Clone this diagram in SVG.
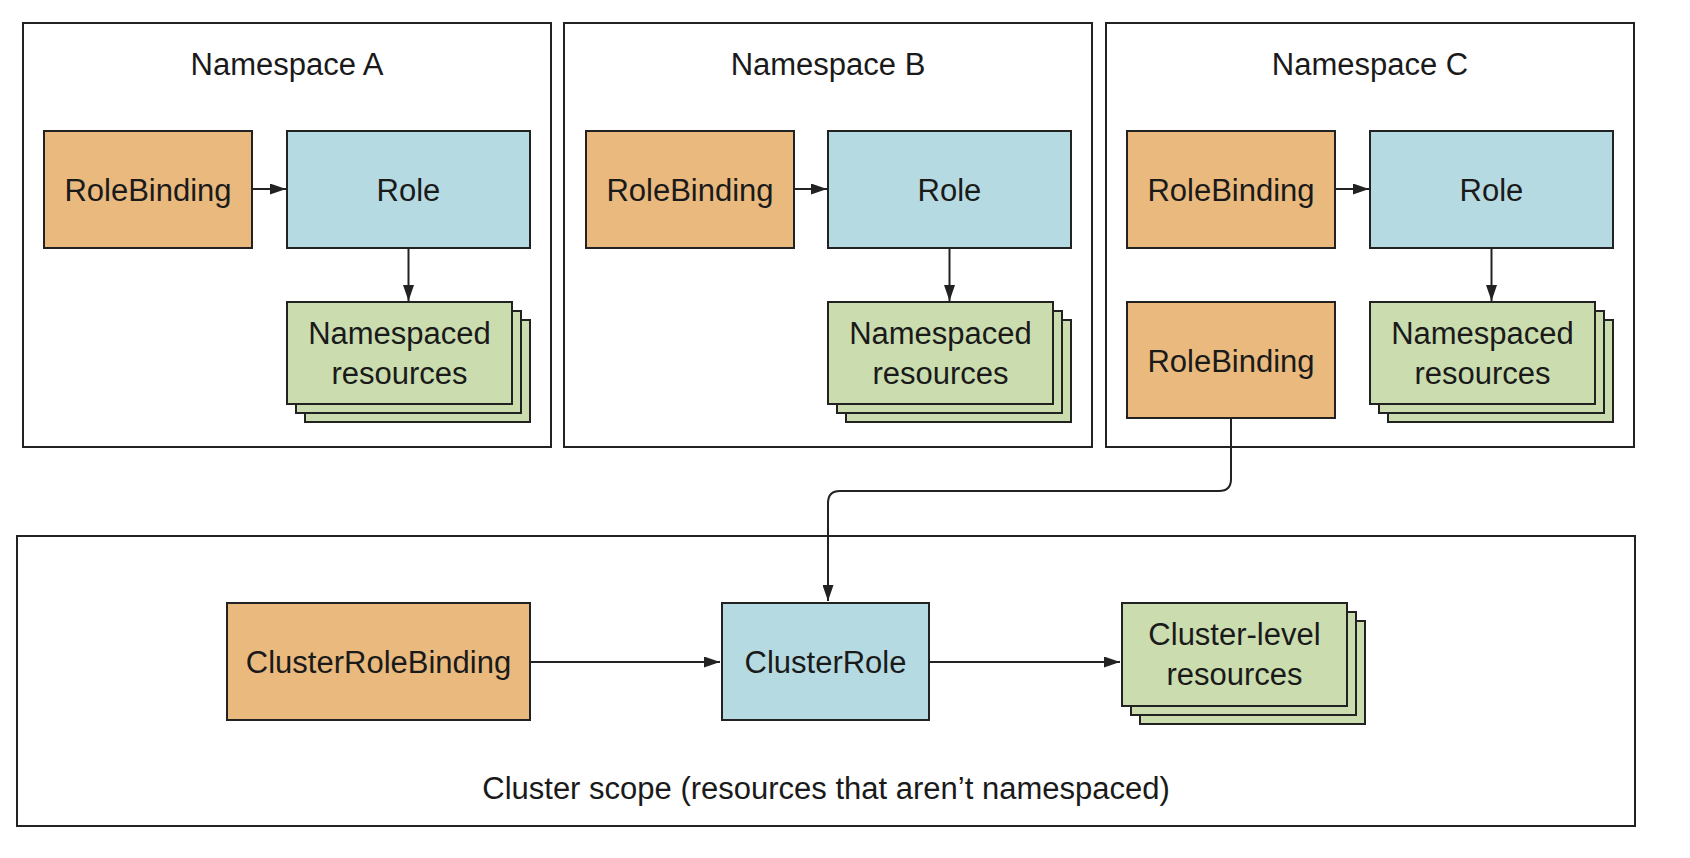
<svg xmlns="http://www.w3.org/2000/svg" width="1690" height="858" viewBox="0 0 1690 858">
<style>
text{font-family:"Liberation Sans",Arial,Helvetica,sans-serif;font-size:31px;fill:#1a1a1a;text-anchor:middle}
.frame{fill:#fff;stroke:#222;stroke-width:2}
.rb{fill:#E9B97E;stroke:#222;stroke-width:2}
.role{fill:#B6DAE1;stroke:#222;stroke-width:2}
.res{fill:#CBDDAF;stroke:#222;stroke-width:2}
.conn{fill:none;stroke:#222;stroke-width:2}
</style>
<defs>
<marker id="ah" markerWidth="16" markerHeight="11" refX="16" refY="5.5" orient="auto" markerUnits="userSpaceOnUse">
<path d="M0,0 L16,5.5 L0,11 Z" fill="#222"/>
</marker>
</defs>
<rect width="1690" height="858" fill="#fff"/>
<g id="nsA">
<rect class="frame" x="23" y="23" width="528" height="424"/>
<text x="287" y="75">Namespace A</text>
</g>
<g id="nsB">
<rect class="frame" x="564" y="23" width="528" height="424"/>
<text x="828" y="75">Namespace B</text>
</g>
<g id="nsC">
<rect class="frame" x="1106" y="23" width="528" height="424"/>
<text x="1370" y="75">Namespace C</text>
</g>
<g id="cluster">
<rect class="frame" x="17" y="536" width="1618" height="290"/>
<text x="826" y="799">Cluster scope (resources that aren’t namespaced)</text>
</g>
<g id="rbA"><rect class="rb" x="44" y="131" width="208" height="117"/><text x="148" y="201">RoleBinding</text></g>
<g id="roleA"><rect class="role" x="287" y="131" width="243" height="117"/><text x="408.5" y="201">Role</text></g>
<g id="resA">
<rect class="res" x="305" y="320" width="225" height="102"/>
<rect class="res" x="296" y="311" width="225" height="102"/>
<rect class="res" x="287" y="302" width="225" height="102"/>
<text x="399.5" y="344">Namespaced</text><text x="399.5" y="384">resources</text>
</g>
<g id="rbB"><rect class="rb" x="586" y="131" width="208" height="117"/><text x="690" y="201">RoleBinding</text></g>
<g id="roleB"><rect class="role" x="828" y="131" width="243" height="117"/><text x="949.5" y="201">Role</text></g>
<g id="resB">
<rect class="res" x="846" y="320" width="225" height="102"/>
<rect class="res" x="837" y="311" width="225" height="102"/>
<rect class="res" x="828" y="302" width="225" height="102"/>
<text x="940.5" y="344">Namespaced</text><text x="940.5" y="384">resources</text>
</g>
<g id="rbC"><rect class="rb" x="1127" y="131" width="208" height="117"/><text x="1231" y="201">RoleBinding</text></g>
<g id="roleC"><rect class="role" x="1370" y="131" width="243" height="117"/><text x="1491.5" y="201">Role</text></g>
<g id="resC">
<rect class="res" x="1388" y="320" width="225" height="102"/>
<rect class="res" x="1379" y="311" width="225" height="102"/>
<rect class="res" x="1370" y="302" width="225" height="102"/>
<text x="1482.5" y="344">Namespaced</text><text x="1482.5" y="384">resources</text>
</g>
<g id="rbC2"><rect class="rb" x="1127" y="302" width="208" height="116"/><text x="1231" y="372">RoleBinding</text></g>
<g id="crb"><rect class="rb" x="227" y="603" width="303" height="117"/><text x="378.5" y="673">ClusterRoleBinding</text></g>
<g id="cr"><rect class="role" x="722" y="603" width="207" height="117"/><text x="825.5" y="673">ClusterRole</text></g>
<g id="clres">
<rect class="res" x="1140" y="621" width="225" height="103"/>
<rect class="res" x="1131" y="612" width="225" height="103"/>
<rect class="res" x="1122" y="603" width="225" height="103"/>
<text x="1234.5" y="645">Cluster-level</text><text x="1234.5" y="685">resources</text>
</g>
<g id="connectors">
<line class="conn" x1="252" y1="189" x2="286" y2="189" marker-end="url(#ah)"/>
<line class="conn" x1="408.5" y1="248" x2="408.5" y2="301" marker-end="url(#ah)"/>
<line class="conn" x1="794" y1="189" x2="827" y2="189" marker-end="url(#ah)"/>
<line class="conn" x1="949.5" y1="248" x2="949.5" y2="301" marker-end="url(#ah)"/>
<line class="conn" x1="1335" y1="189" x2="1369" y2="189" marker-end="url(#ah)"/>
<line class="conn" x1="1491.5" y1="248" x2="1491.5" y2="301" marker-end="url(#ah)"/>
<path class="conn" d="M1231,418 V479 Q1231,491 1219,491 H840 Q828,491 828,503 V601" marker-end="url(#ah)"/>
<line class="conn" x1="530" y1="662" x2="720" y2="662" marker-end="url(#ah)"/>
<line class="conn" x1="929" y1="662" x2="1120" y2="662" marker-end="url(#ah)"/>
</g>
</svg>
